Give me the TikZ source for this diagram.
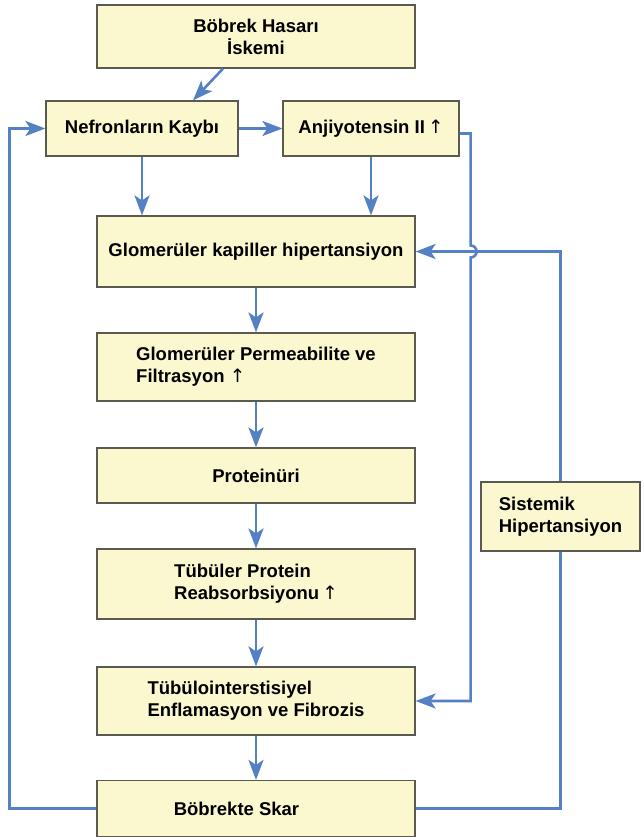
\documentclass[tikz,border=0pt]{standalone}
\usepackage{fontspec}
\setmainfont{Liberation Sans}
\newfontfamily\okfont{DejaVu Sans}
\usetikzlibrary{arrows.meta,calc}
\definecolor{kutusari}{RGB}{251,247,207}
\definecolor{cerceve}{RGB}{90,90,80}
\definecolor{okmavi}{RGB}{84,128,196}
\newcommand{\artis}{{\okfont\mdseries ↑}}
\tikzset{
  kutu/.style={draw=cerceve, line width=1.2pt, fill=kutusari, inner sep=4pt,
    font=\fontsize{18.5}{22}\selectfont\bfseries},
  hat/.style={draw=okmavi, line width=2.6pt},
  akis/.style={hat, -{Stealth[length=20pt,width=15pt,inset=5pt]}},
}
\begin{document}
\begin{tikzpicture}[x=1pt,y=1pt]
\useasboundingbox (0,0) rectangle (643,-837);

\node[kutu, minimum width=318, minimum height=63, align=center] (hasar) at (256,-36.5) {Böbrek Hasarı\\İskemi};
\node[kutu, minimum width=192, minimum height=55] (nefron) at (142,-128.5) {Nefronların Kaybı};
\node[kutu, minimum width=176, minimum height=55] (anji) at (371,-128.5) {Anjiyotensin II\,\artis};
\node[kutu, minimum width=318, minimum height=71] (kapiller) at (256,-251.5) {Glomerüler kapiller hipertansiyon};
\node[kutu, minimum width=318, minimum height=68, align=left] (perm) at (256,-367) {Glomerüler Permeabilite ve\\Filtrasyon \artis};
\node[kutu, minimum width=318, minimum height=55] (protein) at (256,-475.5) {Proteinüri};
\node[kutu, minimum width=318, minimum height=70, align=left] (reabs) at (256,-584) {Tübüler Protein\\Reabsorbsiyonu\,\artis};
\node[kutu, minimum width=318, minimum height=68, align=left] (tubulo) at (256,-701) {Tübülointerstisiyel\\Enflamasyon ve Fibrozis};
\node[kutu, minimum width=318, minimum height=56] (skar) at (256,-808.5) {\hspace*{-39pt}Böbrekte Skar};
\node[kutu, minimum width=159, minimum height=69, align=left] (sistemik) at (560.5,-516.5) {Sistemik\\Hipertansiyon};

\draw[akis] ($(hasar.south)+(-33,0)$) -- ($(nefron.north)+(51,0)$);
\draw[akis] (nefron) -- (anji);
\draw[akis] (nefron) -- (nefron |- kapiller.north);
\draw[akis] (anji) -- (anji |- kapiller.north);
\foreach \a/\b in {kapiller/perm, perm/protein, protein/reabs, reabs/tubulo, tubulo/skar}
	\draw[akis] (\a) -- (\b);

\draw[akis] (skar.west) -- ++(-87,0) |- (nefron.west);
\draw[hat] (skar.east) -| (sistemik.south);
\draw[akis] (sistemik.north) |- (kapiller.east);
\draw[akis] ($(anji.east)+(0,-5)$) -| ($(kapiller.east)+(55,6)$) arc[start angle=90, end angle=-90, radius=6] |- (tubulo.east);
\end{tikzpicture}
\end{document}
